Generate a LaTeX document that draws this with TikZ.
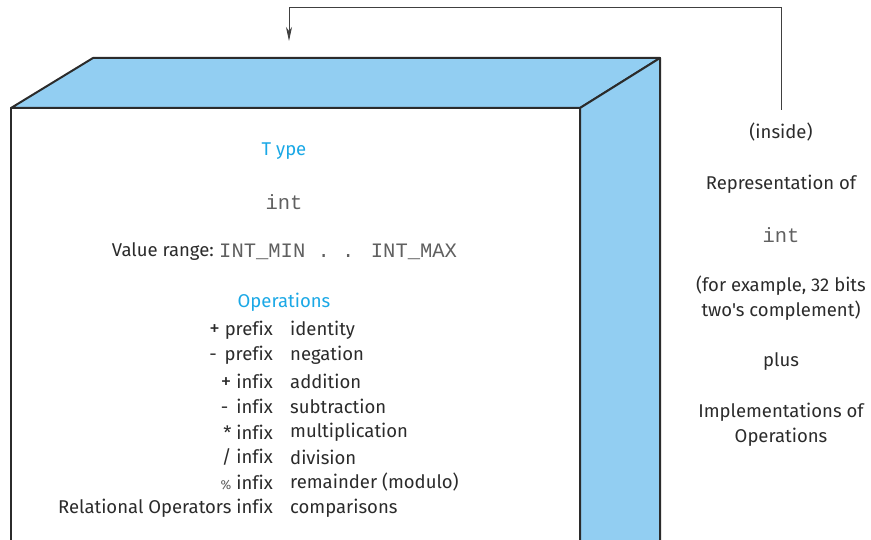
\documentclass[tikz,border=0pt]{standalone}
\usepackage{fontspec}
\setmainfont{Fira Sans}[Ligatures={NoCommon,TeXOff}]
\newfontfamily\monof{Liberation Mono}
\usetikzlibrary{arrows.meta}
\definecolor{boxblue}{HTML}{92CEF2}
\definecolor{titleblue}{HTML}{1AA8E6}
\definecolor{ink}{HTML}{2B2B2B}
\newcommand{\bigplus}{{\fontsize{21}{22}\selectfont+}}
\tikzset{
  face/.style={draw=ink, line width=2pt, line join=round},
  txt/.style={inner sep=0pt, text=ink, font=\fontsize{18.5}{22}\selectfont},
  ttl/.style={txt, text=titleblue},
  code/.style={inner sep=0pt, text=ink!75, font=\monof\fontsize{20.5}{24}\selectfont},
  lft/.style={txt, anchor=east},
  rgt/.style={txt, anchor=west},
  link/.style={draw=ink!90, line width=0.9pt, -{Stealth[length=14pt,width=6pt,inset=4pt]}}
}
\begin{document}
\begin{tikzpicture}[x=1pt,y=-1pt]
\useasboundingbox (0,0) rectangle (871,540);
\clip (0,0) rectangle (871,540);
% box faces
\path[face, fill=boxblue] (11,108) -- (93,58) -- (660,58) -- (580,108) -- cycle;
\path[face, fill=boxblue] (580,108) -- (660,58) -- (660,560) -- (580,560) -- cycle;
\path[face, fill=white] (11,108) -- (580,108) -- (580,560) -- (11,560) -- cycle;
% texts inside
\node[ttl] (ttype) at (284,151) {T ype};
\node[code] (tint) at (284,202) {int};
\node[txt, anchor=east] (vr) at (214,252) {Value range:};
\node[code, anchor=west] (vrange) at (219,252) {INT\_MIN . . INT\_MAX};
\node[ttl] (ops) at (284,302) {Operations};
\node[lft] (l1) at (273,330) {\bigplus\ prefix};  \node[rgt] (r1) at (290,330) {identity};
\node[lft] (l2) at (273,355) {-\, prefix}; \node[rgt] (r2) at (290,355) {negation};
\node[lft] (l3) at (273,381) {\bigplus\ infix};   \node[rgt] (r3) at (290,381) {addition};
\node[lft] (l4) at (273,406) {-\, infix};  \node[rgt] (r4) at (290,406) {subtraction};
\node[lft] (l5) at (273,432) {* infix};   \node[rgt] (r5) at (290,432) {multiplication};
\node[lft] (l6) at (273,457) {/ infix};   \node[rgt] (r6) at (290,457) {division};
\node[lft] (l7) at (273,482) {{\fontsize{13}{14}\selectfont\color{ink!75}\%} infix}; \node[rgt] (r7) at (290,482) {remainder (modulo)};
\node[lft] (l8) at (273,508) {Relational Operators infix}; \node[rgt] (r8) at (290,508) {comparisons};
% right-hand texts
\node[txt] (inside) at (781,132) {(inside)};
\node[txt] (repr) at (781,184) {Representation of};
\node[code] (rint) at (781,235) {int};
\node[txt] (ex1) at (781,286) {(for example, 32 bits};
\node[txt] (ex2) at (781,311) {two's complement)};
\node[txt] (plus) at (781,362) {plus};
\node[txt] (impl1) at (781,412) {Implementations of};
\node[txt] (impl2) at (781,437) {Operations};
% connector
\coordinate (src) at (781,110);
\coordinate (dst) at (289,41);
\draw[link] (src) -- (781,7) -- (289,7) -- (dst);
\end{tikzpicture}
\end{document}
